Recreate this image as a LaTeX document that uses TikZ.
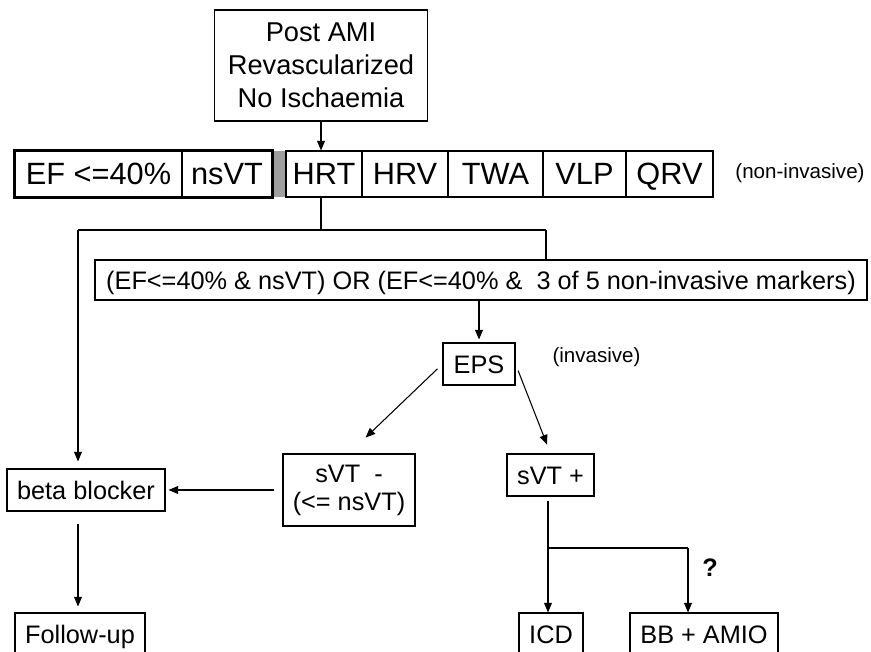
\documentclass[tikz,border=0pt]{standalone}
\usepackage{fontspec}
\setmainfont{Liberation Sans}
\usetikzlibrary{arrows.meta, positioning}

\begin{document}
\begin{tikzpicture}[
    box/.style={draw, line width=0.6pt, inner sep=0pt, font=\fontsize{14.4}{16}\selectfont},
    oneline/.style={box, minimum height=0.84cm, text height=10.3pt, text depth=0pt},
    cell/.style={draw, line width=0.6pt, inner sep=0pt, minimum height=0.92cm, text height=12.5pt, text depth=0pt, font=\fontsize{17.5}{20}\selectfont},
    note/.style={font=\fontsize{11.7}{14}\selectfont},
    link/.style={line width=0.6pt},
    arr/.style={link, -{Triangle[length=5.5pt, width=4.5pt]}},
]
    \useasboundingbox (0,0) rectangle (17.42,13.02);
    \clip (0,0) rectangle (17.42,13.02);

    % Start
    \node[box, minimum width=4.26cm, minimum height=2.22cm, align=center, font=\fontsize{15.5}{18.7}\selectfont] (start) at (6.42, 11.71) {Post AMI\\Revascularized\\No Ischaemia};

    % Marker row
    \fill[gray!75] (5.44, 9.08) rectangle (5.72, 10.0);
    \node[cell, minimum width=3.34cm] (ef) at (1.97, 9.54) {EF <=40\%};
    \node[cell, minimum width=1.80cm] (nsvt) at (4.54, 9.54) {nsVT};
    \draw[line width=1.6pt] (ef.south west) rectangle (nsvt.north east);
    \node[cell, minimum width=1.52cm] (hrt) at (6.48, 9.54) {HRT};
    \node[cell, minimum width=1.72cm] (hrv) at (8.10, 9.54) {HRV};
    \node[cell, minimum width=1.90cm] (twa) at (9.91, 9.54) {TWA};
    \node[cell, minimum width=1.66cm] (vlp) at (11.69, 9.54) {VLP};
    \node[cell, minimum width=1.74cm] (qrv) at (13.39, 9.54) {QRV};
    \node[note] (noninv) at (16.0, 9.56) {(non-invasive)};

    % Criteria and EPS
    \node[oneline, minimum width=15.44cm, minimum height=0.8cm] (crit) at (9.62, 7.42) {(EF<=40\% \& nsVT) OR (EF<=40\% \&~~3 of 5 non-invasive markers)};
    \node[oneline, minimum width=1.44cm] (eps) at (9.58, 5.74) {EPS};
    \node[note] (inv) at (11.93, 5.88) {(invasive)};

    % Outcomes
    \node[oneline, minimum width=3.16cm] (bb) at (1.72, 3.22) {beta blocker};
    \node[box, minimum width=2.64cm, minimum height=1.44cm, align=center] (svtneg) at (6.98, 3.22) {sVT~~-\\(<= nsVT)};
    \node[oneline, minimum width=1.74cm] (svtpos) at (11.01, 3.52) {sVT +};
    \node[oneline, minimum width=2.60cm] (follow) at (1.60, 0.34) {Follow-up};
    \node[oneline, minimum width=1.28cm] (icd) at (11.02, 0.34) {ICD};
    \node[oneline, minimum width=2.96cm] (bbamio) at (14.08, 0.34) {BB + AMIO};
    \node[font=\bfseries\fontsize{14.4}{16}\selectfont] (q) at (14.20, 1.66) {?};

    % Connectors
    \coordinate (split) at (6.42, 8.42);
    \coordinate (splitL) at (1.56, 8.42);
    \coordinate (splitR) at (10.92, 8.42);
    \coordinate (fork) at (10.96, 2.06);
    \coordinate (forkR) at (13.76, 2.06);

    \draw[arr] (start) -- (start |- hrt.north);
    \draw[link] (split |- hrt.south) -- (split);
    \draw[link] (splitL) -- (splitR);
    \draw[link] (splitR) -- (splitR |- crit.north);
    \draw[arr, shorten >=0.14cm] (splitL) -- (splitL |- bb.north);
    \draw[arr, shorten >=0.06cm] (eps.north |- crit.south) -- (eps.north);
    \draw[arr, shorten <=0.14cm, shorten >=0.46cm] (eps.west) -- (svtneg.north);
    \draw[arr, shorten <=0.14cm, shorten >=0.19cm] (eps.east) -- (svtpos.north);
    \draw[arr, shorten <=0.16cm, shorten >=0.06cm] (svtneg) -- (bb);
    \draw[arr, shorten <=0.24cm, shorten >=0.12cm] (splitL |- bb.south) -- (splitL |- follow.north);
    \draw[link, shorten <=0.08cm] (fork |- svtpos.south) -- (fork);
    \draw[arr] (fork) -- (fork |- icd.north);
    \draw[link] (fork) -- (forkR);
    \draw[arr] (forkR) -- (forkR |- bbamio.north);
\end{tikzpicture}
\end{document}
